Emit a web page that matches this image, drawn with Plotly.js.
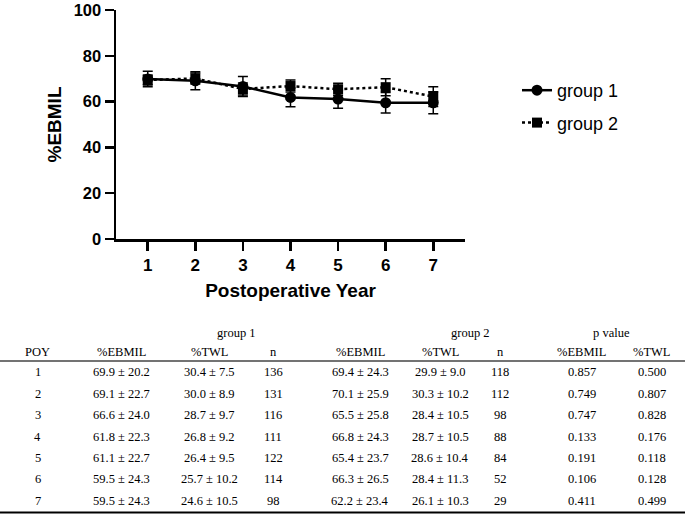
<!DOCTYPE html>
<html>
<head>
<meta charset="utf-8">
<script src="https://cdn.plot.ly/plotly-3.0.1.min.js"></script>
<style>html,body{margin:0;padding:0;background:#fff;}#chart{width:685px;height:514px;}</style>
</head>
<body>
<div id="chart"></div>
<script>
// ---- data ----
const years = [1, 2, 3, 4, 5, 6, 7];
const g1Ebmil = [69.9, 69.1, 66.6, 61.8, 61.1, 59.5, 59.5];
const g1EbmilSd = [20.2, 22.7, 24.0, 22.3, 22.7, 24.3, 24.3];
const g1Twl = [30.4, 30.0, 28.7, 26.8, 26.4, 25.7, 24.6];
const g1TwlSd = [7.5, 8.9, 9.7, 9.2, 9.5, 10.2, 10.5];
const g1N = [136, 131, 116, 111, 122, 114, 98];
const g2Ebmil = [69.4, 70.1, 65.5, 66.8, 65.4, 66.3, 62.2];
const g2EbmilSd = [24.3, 25.9, 25.8, 24.3, 23.7, 26.5, 23.4];
const g2Twl = [29.9, 30.3, 28.4, 28.7, 28.6, 28.4, 26.1];
const g2TwlSd = [9.0, 10.2, 10.5, 10.5, 10.4, 11.3, 10.3];
const g2N = [118, 112, 98, 88, 84, 52, 29];
const pEbmil = ['0.857', '0.749', '0.747', '0.133', '0.191', '0.106', '0.411'];
const pTwl = ['0.500', '0.807', '0.828', '0.176', '0.118', '0.128', '0.499'];
// error bar half-lengths
const g1Err = [3.4, 3.9, 4.4, 4.1, 4.0, 4.5, 4.8];
const g2Err = [2.2, 2.4, 2.6, 2.6, 2.6, 3.7, 4.3];
const groupHeaders = ['group 1', 'group 2', 'p value'];
const colHeaders = ['POY', '%EBMIL', '%TWL', 'n', '%EBMIL', '%TWL', 'n', '%EBMIL', '%TWL'];

// ---- layout geometry (pixels) ----
const W = 685, H = 514;
const L = 116, R = 465, T = 10, B = 239;
const px = x => (x - L) / (R - L);
const py = y => 1 - (y - T) / (B - T);

const sans = 'Liberation Sans, Arial, sans-serif';
const serif = 'Liberation Serif, Times New Roman, serif';

const traces = [
  {
    x: years, y: g1Ebmil, name: 'group 1', type: 'scatter', mode: 'lines+markers',
    line: {color: '#000', width: 2.5, dash: 'solid'},
    marker: {symbol: 'circle', size: 11, color: '#000'},
    error_y: {type: 'data', array: g1Err, visible: true, color: '#000', thickness: 1.5, width: 5},
    legendgroup: 'a'
  },
  {
    x: years, y: g2Ebmil, name: 'group 2', type: 'scatter', mode: 'lines+markers',
    line: {color: '#000', width: 2.5, dash: 'dot'},
    marker: {symbol: 'square', size: 10, color: '#000'},
    error_y: {type: 'data', array: g2Err, visible: true, color: '#000', thickness: 1.5, width: 5},
    legendgroup: 'b'
  }
];

// ---- table ----
const colX = [37.7, 121.7, 209.3, 273.3, 360, 440, 500, 581.7, 651.7];
const groupX = [236.7, 470, 611.7];
const groupY = 332.7, headY = 352, row0 = 372.3, rowStep = 21.4;
const ann = [];
const tfont = {family: serif, size: 12.5, color: '#000'};
groupHeaders.forEach((t, i) => ann.push({xref: 'paper', yref: 'paper', x: px(groupX[i]), y: py(groupY),
  text: t, showarrow: false, xanchor: 'center', yanchor: 'middle', font: tfont}));
colHeaders.forEach((t, i) => ann.push({xref: 'paper', yref: 'paper', x: px(colX[i]), y: py(headY),
  text: t, showarrow: false, xanchor: 'center', yanchor: 'middle', font: tfont}));
years.forEach((yr, r) => {
  const cells = [
    String(yr),
    g1Ebmil[r].toFixed(1) + ' ± ' + g1EbmilSd[r].toFixed(1),
    g1Twl[r].toFixed(1) + ' ± ' + g1TwlSd[r].toFixed(1),
    String(g1N[r]),
    g2Ebmil[r].toFixed(1) + ' ± ' + g2EbmilSd[r].toFixed(1),
    g2Twl[r].toFixed(1) + ' ± ' + g2TwlSd[r].toFixed(1),
    String(g2N[r]),
    pEbmil[r],
    pTwl[r]
  ];
  cells.forEach((t, i) => ann.push({xref: 'paper', yref: 'paper', x: px(colX[i]), y: py(row0 + r * rowStep),
    text: t, showarrow: false, xanchor: 'center', yanchor: 'middle', font: tfont}));
});

const shapes = [
  {type: 'line', xref: 'paper', yref: 'paper', x0: px(0), x1: px(W), y0: py(361), y1: py(361),
   line: {color: '#444', width: 1.5}},
  {type: 'line', xref: 'paper', yref: 'paper', x0: px(0), x1: px(W), y0: py(512.5), y1: py(512.5),
   line: {color: '#000', width: 2}}
];

const layout = {
  width: W, height: H, autosize: false,
  margin: {l: L, r: W - R, t: T, b: H - B, pad: 0},
  paper_bgcolor: '#fff', plot_bgcolor: '#fff',
  showlegend: true,
  legend: {x: px(517), y: py(72), xanchor: 'left', yanchor: 'top', traceorder: 'grouped', tracegroupgap: 6,
           font: {family: sans, size: 18, color: '#000'}, bgcolor: 'rgba(0,0,0,0)'},
  xaxis: {
    range: [0.333, 7.667], tickvals: years, ticktext: years.map(String),
    showline: true, linecolor: '#000', linewidth: 2.5, ticks: 'outside', ticklen: 9, tickwidth: 2.5, tickcolor: '#000',
    showgrid: false, zeroline: false, fixedrange: true, ticklabeloverflow: 'allow',
    tickfont: {family: sans, size: 17, color: '#000', weight: 'bold'},
    title: {text: 'Postoperative Year', font: {family: sans, size: 19, color: '#000', weight: 'bold'}, standoff: 10}
  },
  yaxis: {
    range: [0, 100], tickvals: [0, 20, 40, 60, 80, 100],
    showline: true, linecolor: '#000', linewidth: 2.5, ticks: 'outside', ticklen: 9, tickwidth: 2.5, tickcolor: '#000',
    showgrid: false, zeroline: false, fixedrange: true, ticklabeloverflow: 'allow',
    tickfont: {family: sans, size: 16.5, color: '#000', weight: 'bold'},
    title: {text: '%EBMIL', font: {family: sans, size: 19, color: '#000', weight: 'bold'}, standoff: 7}
  },
  annotations: ann,
  shapes: shapes
};

Plotly.newPlot('chart', traces, layout, {displayModeBar: false, staticPlot: true});
</script>
</body>
</html>
